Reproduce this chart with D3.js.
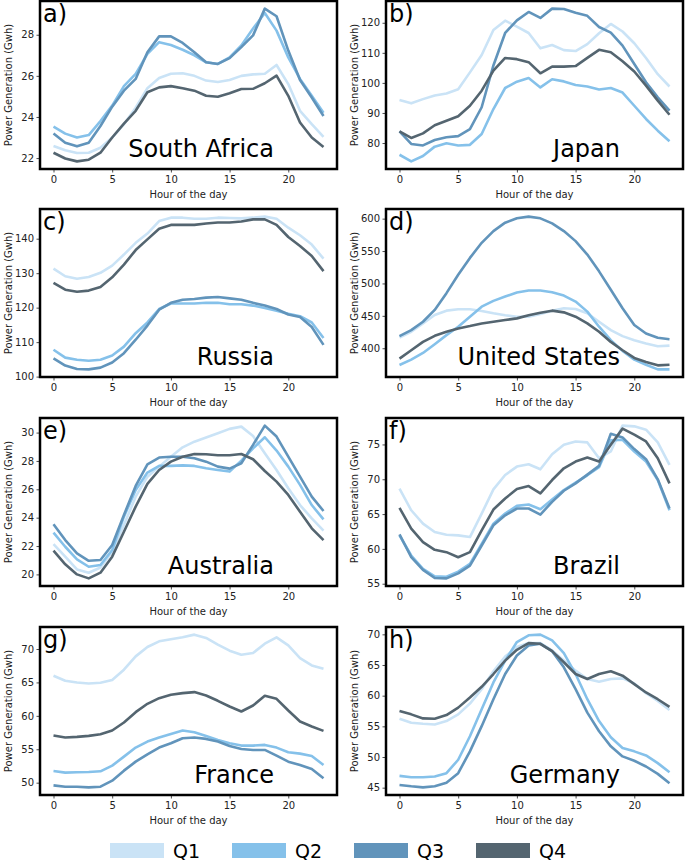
<!DOCTYPE html>
<html><head><meta charset="utf-8">
<script src="https://cdn.jsdelivr.net/npm/d3@7"></script>
<style>
body{margin:0;background:#fff;}
svg{display:block;font-family:"DejaVu Sans",sans-serif;}
</style></head>
<body><svg id="chart" width="685" height="860"></svg>
<script>
const hours = [0,1,2,3,4,5,6,7,8,9,10,11,12,13,14,15,16,17,18,19,20,21,22,23];
const quarters = ["Q1","Q2","Q3","Q4"];
const quarterColors = ["#cae3f6","#85c1ea","#6194bb","#546570"];
const countries = ["South Africa","Japan","Russia","United States","Australia","Brazil","France","Germany"];
const letters = ["a)","b)","c)","d)","e)","f)","g)","h)"];
const xTicks = [0,5,10,15,20];

// each country: [Q1, Q2, Q3, Q4]
const southAfrica = [
 [22.59,22.38,22.25,22.26,22.5,23.0,23.65,24.45,25.4,25.9,26.1,26.13,26.0,25.77,25.7,25.8,26.0,26.07,26.1,26.53,25.6,24.3,23.65,23.03],
 [23.53,23.19,23.0,23.12,23.8,24.55,25.5,26.1,27.07,27.64,27.5,27.27,27.0,26.66,26.58,26.9,27.48,28.3,29.06,28.2,26.9,25.85,25.03,24.2],
 [23.2,22.75,22.57,22.75,23.56,24.5,25.28,25.85,27.15,27.92,27.92,27.6,27.15,26.66,26.58,26.86,27.4,27.97,29.27,28.9,27.23,25.8,24.95,24.05],
 [22.26,21.98,21.84,21.92,22.26,23.0,23.68,24.3,25.2,25.44,25.5,25.4,25.28,25.03,24.98,25.15,25.36,25.37,25.64,26.01,25.03,23.73,23.0,22.54]
];
const japan = [
 [94.3,93.2,94.6,95.8,96.5,97.9,103.5,109.3,117.6,120.7,118.7,116.6,111.5,112.6,110.9,110.6,112.9,116.5,119.6,117.1,113.2,108.3,102.9,98.8],
 [76.1,73.9,75.7,78.8,79.9,79.2,79.4,83.0,91.3,98.3,100.4,101.6,98.5,101.2,100.5,99.3,98.8,97.8,98.3,96.8,92.4,88.0,84.1,80.6],
 [83.9,79.7,79.2,81.0,81.9,82.3,84.6,91.9,105.8,116.6,120.8,123.6,121.6,124.7,124.6,123.3,122.3,118.6,116.7,112.4,106.3,100.2,95.2,90.8],
 [83.9,81.7,83.2,85.9,87.4,88.9,92.4,97.4,104.1,108.3,107.9,106.9,103.2,105.4,105.4,105.6,108.3,111.0,110.2,107.2,103.8,99.1,94.1,89.4]
];
const russia = [
 [131.3,129.1,128.4,128.9,130.1,132.2,135.4,138.8,141.5,145.1,146.1,146.1,145.8,145.8,146.1,146.0,145.9,146.1,146.4,145.8,143.2,141.0,138.3,134.2],
 [107.8,105.5,104.9,104.6,104.9,106.1,108.7,112.6,115.7,119.6,121.2,121.2,121.2,121.4,121.4,121.0,121.0,120.6,119.9,119.1,118.2,117.5,115.7,111.2],
 [105.3,103.2,102.2,102.1,102.6,104.1,106.8,110.7,114.8,119.4,121.4,122.3,122.5,122.9,123.1,122.7,122.3,121.4,120.6,119.6,118.0,117.3,114.4,109.2],
 [127.2,125.2,124.6,124.95,126.0,128.8,132.5,136.7,139.8,142.9,144.0,144.0,144.0,144.4,144.7,144.7,145.0,145.6,145.6,144.0,140.5,137.9,135.0,130.6]
];
const unitedStates = [
 [416.6,425.4,438.3,451.3,458,460.1,460.1,457.5,453.9,450.8,448.7,448.7,452.8,458,461.7,460.6,453.9,440.9,428,418.7,412.4,407.3,403.1,404.1],
 [374.1,382.4,392.7,406.2,420.2,433.2,448.7,464.2,473.1,479.8,486,489.1,489.1,486.5,481.3,472,456.5,433.2,412.4,395.9,382.4,374.6,367.4,367.4],
 [418.7,428.0,440.9,459.1,485,513.5,539.4,562.7,580.8,593.8,600.5,603.1,600.5,592.7,580.8,565.3,544.6,518.7,490.2,461.7,435.8,422.8,416.1,414],
 [383.9,396.9,409.8,419.2,425.4,430.6,434.2,438.3,440.9,443.5,446.1,450.8,454.9,458,455.4,448.7,438.3,425.4,409.8,396.9,385,378.8,373.6,374.6]
];
const australia = [
 [22.14,21.25,20.35,20.12,20.49,21.6,23.48,25.48,26.89,27.6,28.3,28.96,29.36,29.65,29.95,30.26,30.42,29.76,28.54,27.36,26.07,24.89,23.95,23.08],
 [22.94,21.95,21.06,20.54,20.66,21.72,24.07,25.95,27.18,27.65,27.65,27.69,27.65,27.48,27.36,27.25,28.02,28.89,29.67,28.73,27.6,26.31,24.89,23.88],
 [23.53,22.42,21.48,20.96,21.01,22.07,24.19,26.24,27.76,28.24,28.3,28.3,28.19,27.95,27.6,27.46,27.84,29.13,30.49,29.72,28.3,26.89,25.48,24.47],
 [21.67,20.71,20.0,19.72,20.12,21.25,23.01,24.78,26.38,27.36,27.95,28.3,28.49,28.47,28.4,28.4,28.49,28.12,27.29,26.54,25.6,24.42,23.25,22.42]
];
const brazil = [
 [68.64,65.55,63.63,62.42,62.04,61.94,61.7,65.07,68.54,70.61,71.82,72.16,71.43,73.6,74.95,75.43,75.29,73.02,73.99,77.7,77.6,77.12,75.29,72.06],
 [61.94,59.05,57.12,56.06,56.01,56.73,57.84,60.73,63.63,65.07,66.18,66.37,65.7,67.1,68.45,69.51,70.57,71.72,75.58,75.67,73.99,72.54,69.89,65.55],
 [62.08,58.81,56.98,55.82,55.77,56.49,57.6,60.49,63.39,64.83,65.8,65.8,64.93,66.76,68.35,69.41,70.66,71.92,76.54,76.01,74.33,72.88,69.99,65.8],
 [65.89,62.9,60.98,59.87,59.53,58.81,59.53,62.66,65.65,67.24,68.59,69.02,67.96,69.89,71.58,72.54,73.12,72.54,74.95,77.27,76.4,75.43,73.02,69.41]
];
const france = [
 [66.0,65.25,65.0,64.85,64.95,65.35,66.9,68.9,70.3,71.15,71.45,71.75,72.15,71.65,70.65,69.75,69.15,69.4,70.8,71.75,70.55,68.65,67.55,67.05],
 [51.75,51.5,51.55,51.6,51.7,52.55,53.9,55.25,56.15,56.75,57.3,57.8,57.55,57.0,56.4,55.9,55.55,55.55,55.65,55.25,54.55,54.35,54.0,52.65],
 [49.6,49.4,49.4,49.3,49.4,50.3,51.8,53.15,54.25,55.25,55.9,56.65,56.75,56.55,56.15,55.5,55.05,54.9,54.9,54.05,53.15,52.65,52.05,50.65],
 [57.05,56.75,56.85,57.0,57.25,57.8,59.0,60.55,61.8,62.65,63.15,63.4,63.55,63.05,62.25,61.4,60.65,61.55,63.0,62.55,60.8,59.15,58.4,57.75]
];
const germany = [
 [56.24,55.58,55.42,55.31,55.86,56.95,58.71,61.06,63.97,66.38,67.92,68.57,68.57,67.37,65.72,64.08,62.71,62.27,62.71,62.82,62.0,60.41,59.14,57.66],
 [46.92,46.7,46.7,46.81,47.36,49.55,53.39,57.77,62.16,65.72,68.74,69.84,69.95,69.01,66.93,63.53,59.42,55.86,53.22,51.47,50.92,50.26,49.0,47.52],
 [45.44,45.22,45.05,45.22,45.82,47.36,50.92,55.03,59.42,63.53,66.55,68.19,68.46,67.26,64.63,61.06,57.23,54.21,51.74,50.1,49.39,48.45,47.25,45.71],
 [57.5,56.95,56.29,56.24,56.84,58.05,59.69,61.45,63.53,65.72,67.48,68.57,68.46,67.26,65.45,63.53,62.71,63.53,63.97,63.26,61.89,60.52,59.42,58.16]
];
const countryData = [southAfrica, japan, russia, unitedStates, australia, brazil, france, germany];
const yTicks = [
 [22,24,26,28],
 [80,90,100,110,120],
 [100,110,120,130,140],
 [400,450,500,550,600],
 [20,22,24,26,28,30],
 [55,60,65,70,75],
 [50,55,60,65,70],
 [45,50,55,60,65,70]
];

const svg = d3.select("#chart");
const colLeft = [40, 386];
const axW = 297;
const rowTop = [1, 209, 418, 627];
const axH = 168;

countries.forEach((name, i) => {
  const col = i % 2, row = Math.floor(i / 2);
  const L = colLeft[col], T = rowTop[row];
  const series = countryData[i];
  const all = series.flat();
  const mn = d3.min(all), mx = d3.max(all), pad = (mx - mn) * 0.05;
  const x = d3.scaleLinear().domain([-1.15, 24.15]).range([L, L + axW]);
  const y = d3.scaleLinear().domain([mn - pad, mx + pad]).range([T + axH, T]);
  const g = svg.append("g");

  const clipId = "clip" + i;
  g.append("clipPath").attr("id", clipId).append("rect")
    .attr("x", L).attr("y", T).attr("width", axW).attr("height", axH);

  const line = d3.line().x((d, k) => x(hours[k])).y(d => y(d));
  const lines = g.append("g").attr("clip-path", `url(#${clipId})`);
  series.forEach((vals, q) => {
    lines.append("path").datum(vals)
      .attr("d", line).attr("fill", "none")
      .attr("stroke", quarterColors[q]).attr("stroke-width", 2.6)
      .attr("stroke-linejoin", "round").attr("stroke-linecap", "butt");
  });

  // axes
  const xa = g.append("g").attr("transform", `translate(0,${T + axH})`)
    .call(d3.axisBottom(x).tickValues(xTicks).tickSize(3.5).tickPadding(3).tickFormat(d3.format("d")));
  const ya = g.append("g").attr("transform", `translate(${L},0)`)
    .call(d3.axisLeft(y).tickValues(yTicks[i]).tickSize(3.5).tickPadding(2.5).tickFormat(d3.format("d")));
  [xa, ya].forEach(a => {
    a.select(".domain").remove();
    a.selectAll("text").attr("font-size", 10).attr("font-family", "DejaVu Sans").attr("fill", "#222");
    a.selectAll("line").attr("stroke", "#222").attr("stroke-width", 0.8);
  });

  g.append("rect").attr("x", L).attr("y", T).attr("width", axW).attr("height", axH)
    .attr("fill", "none").attr("stroke", "#000").attr("stroke-width", 2.5);

  g.append("text").attr("x", L + axW / 2).attr("y", T + axH + 29)
    .attr("text-anchor", "middle").attr("font-size", 10).attr("fill", "#222")
    .text("Hour of the day");
  g.append("text")
    .attr("transform", `translate(${L - 28},${T + axH / 2}) rotate(-90)`)
    .attr("text-anchor", "middle").attr("font-size", 10).attr("fill", "#222")
    .text("Power Generation (Gwh)");

  g.append("text").attr("x", L + 3).attr("y", T + 21)
    .attr("font-size", 24).attr("fill", "#000").text(letters[i]);
  g.append("text").attr("x", L + axW - 63).attr("y", T + axH - 12)
    .attr("text-anchor", "end").attr("font-size", 24).attr("fill", "#000").text(name);
});

// legend
const legX = [110, 232, 354, 476];
const leg = svg.append("g");
quarters.forEach((q, k) => {
  leg.append("rect").attr("x", legX[k]).attr("y", 843).attr("width", 54).attr("height", 15)
    .attr("fill", quarterColors[k]);
  leg.append("text").attr("x", legX[k] + 63).attr("y", 857.5)
    .attr("font-size", 19).attr("fill", "#000").text(q);
});
</script>
</body></html>
